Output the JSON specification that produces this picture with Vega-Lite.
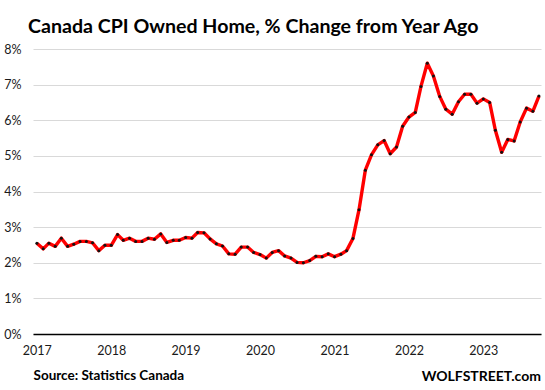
{
  "$schema": "https://vega.github.io/schema/vega-lite/v6.json",
  "autosize": "none",
  "width": 508,
  "height": 285,
  "padding": {"left": 33, "top": 49, "right": 4, "bottom": 56},
  "background": "white",
  "title": {
    "text": "Canada CPI Owned Home, % Change from Year Ago",
    "anchor": "start",
    "frame": "group",
    "font": "Lato",
    "fontSize": 19.6,
    "fontWeight": "bold",
    "color": "#000000",
    "baseline": "alphabetic",
    "offset": 18,
    "dx": -5,
    "dy": 28
  },
  "config": {
    "view": {"stroke": null},
    "font": "Lato"
  },
  "datasets": {
    "cpi": [
      {"date": "2017-01-01", "pct": 2.55},
      {"date": "2017-02-01", "pct": 2.39},
      {"date": "2017-03-01", "pct": 2.55},
      {"date": "2017-04-01", "pct": 2.46},
      {"date": "2017-05-01", "pct": 2.69},
      {"date": "2017-06-01", "pct": 2.46},
      {"date": "2017-07-01", "pct": 2.52},
      {"date": "2017-08-01", "pct": 2.60},
      {"date": "2017-09-01", "pct": 2.60},
      {"date": "2017-10-01", "pct": 2.56},
      {"date": "2017-11-01", "pct": 2.34},
      {"date": "2017-12-01", "pct": 2.49},
      {"date": "2018-01-01", "pct": 2.49},
      {"date": "2018-02-01", "pct": 2.79},
      {"date": "2018-03-01", "pct": 2.63},
      {"date": "2018-04-01", "pct": 2.69},
      {"date": "2018-05-01", "pct": 2.60},
      {"date": "2018-06-01", "pct": 2.60},
      {"date": "2018-07-01", "pct": 2.69},
      {"date": "2018-08-01", "pct": 2.66},
      {"date": "2018-09-01", "pct": 2.81},
      {"date": "2018-10-01", "pct": 2.57},
      {"date": "2018-11-01", "pct": 2.63},
      {"date": "2018-12-01", "pct": 2.63},
      {"date": "2019-01-01", "pct": 2.71},
      {"date": "2019-02-01", "pct": 2.69},
      {"date": "2019-03-01", "pct": 2.85},
      {"date": "2019-04-01", "pct": 2.84},
      {"date": "2019-05-01", "pct": 2.67},
      {"date": "2019-06-01", "pct": 2.53},
      {"date": "2019-07-01", "pct": 2.47},
      {"date": "2019-08-01", "pct": 2.25},
      {"date": "2019-09-01", "pct": 2.24},
      {"date": "2019-10-01", "pct": 2.44},
      {"date": "2019-11-01", "pct": 2.44},
      {"date": "2019-12-01", "pct": 2.29},
      {"date": "2020-01-01", "pct": 2.23},
      {"date": "2020-02-01", "pct": 2.13},
      {"date": "2020-03-01", "pct": 2.29},
      {"date": "2020-04-01", "pct": 2.34},
      {"date": "2020-05-01", "pct": 2.19},
      {"date": "2020-06-01", "pct": 2.13},
      {"date": "2020-07-01", "pct": 2.01},
      {"date": "2020-08-01", "pct": 2.00},
      {"date": "2020-09-01", "pct": 2.06},
      {"date": "2020-10-01", "pct": 2.18},
      {"date": "2020-11-01", "pct": 2.17},
      {"date": "2020-12-01", "pct": 2.25},
      {"date": "2021-01-01", "pct": 2.17},
      {"date": "2021-02-01", "pct": 2.24},
      {"date": "2021-03-01", "pct": 2.34},
      {"date": "2021-04-01", "pct": 2.68},
      {"date": "2021-05-01", "pct": 3.49},
      {"date": "2021-06-01", "pct": 4.60},
      {"date": "2021-07-01", "pct": 5.03},
      {"date": "2021-08-01", "pct": 5.31},
      {"date": "2021-09-01", "pct": 5.43},
      {"date": "2021-10-01", "pct": 5.06},
      {"date": "2021-11-01", "pct": 5.25},
      {"date": "2021-12-01", "pct": 5.83},
      {"date": "2022-01-01", "pct": 6.09},
      {"date": "2022-02-01", "pct": 6.22},
      {"date": "2022-03-01", "pct": 6.95},
      {"date": "2022-04-01", "pct": 7.60},
      {"date": "2022-05-01", "pct": 7.24},
      {"date": "2022-06-01", "pct": 6.67},
      {"date": "2022-07-01", "pct": 6.31},
      {"date": "2022-08-01", "pct": 6.17},
      {"date": "2022-09-01", "pct": 6.52},
      {"date": "2022-10-01", "pct": 6.73},
      {"date": "2022-11-01", "pct": 6.73},
      {"date": "2022-12-01", "pct": 6.48},
      {"date": "2023-01-01", "pct": 6.60},
      {"date": "2023-02-01", "pct": 6.50},
      {"date": "2023-03-01", "pct": 5.72},
      {"date": "2023-04-01", "pct": 5.10},
      {"date": "2023-05-01", "pct": 5.46},
      {"date": "2023-06-01", "pct": 5.42},
      {"date": "2023-07-01", "pct": 5.95},
      {"date": "2023-08-01", "pct": 6.34},
      {"date": "2023-09-01", "pct": 6.25},
      {"date": "2023-10-01", "pct": 6.68}
    ],
    "credit": [
      {"date": "2023-10-11", "pct": 0, "label": "WOLFSTREET.com"}
    ]
  },
  "encoding": {
    "x": {
      "field": "date",
      "type": "temporal",
      "scale": {
        "type": "utc",
        "domain": [
          {"year": 2016, "month": 12, "date": 13, "utc": true},
          {"year": 2023, "month": 10, "date": 11, "utc": true}
        ]
      },
      "axis": {
        "title": "Source: Statistics Canada",
        "titleAnchor": "start",
        "titleAlign": "left",
        "titleFont": "Lato",
        "titleFontSize": 13.5,
        "titleFontWeight": "bold",
        "titleColor": "#000000",
        "titlePadding": 12,
        "values": [
          {"year": 2017, "utc": true},
          {"year": 2018, "utc": true},
          {"year": 2019, "utc": true},
          {"year": 2020, "utc": true},
          {"year": 2021, "utc": true},
          {"year": 2022, "utc": true},
          {"year": 2023, "utc": true}
        ],
        "format": "%Y",
        "formatType": "utc",
        "labelFont": "Lato",
        "labelFontSize": 12.5,
        "labelColor": "#1a1a1a",
        "labelPadding": 10,
        "labelFlush": false,
        "ticks": false,
        "grid": false,
        "domainColor": "#000000",
        "domainWidth": 1.3
      }
    },
    "y": {
      "field": "pct",
      "type": "quantitative",
      "scale": {"domain": [0, 8], "nice": false, "zero": true},
      "axis": {
        "title": null,
        "values": [0, 1, 2, 3, 4, 5, 6, 7, 8],
        "labelExpr": "datum.value + '%'",
        "labelFont": "Lato",
        "labelFontSize": 12.5,
        "labelColor": "#1a1a1a",
        "labelPadding": 12,
        "ticks": false,
        "domain": false,
        "grid": true,
        "gridColor": "#d9d9d9",
        "gridWidth": 1
      }
    }
  },
  "layer": [
    {
      "data": {"name": "cpi"},
      "mark": {"type": "line", "color": "#ff0000", "strokeWidth": 3.4, "strokeJoin": "round"}
    },
    {
      "data": {"name": "cpi"},
      "mark": {"type": "point", "filled": true, "color": "#111111", "size": 9, "opacity": 1}
    },
    {
      "data": {"name": "credit"},
      "mark": {
        "type": "text",
        "align": "right",
        "baseline": "alphabetic",
        "font": "Lato",
        "fontSize": 14,
        "fontWeight": "bold",
        "color": "#000000",
        "dy": 47
      },
      "encoding": {
        "text": {"field": "label"}
      }
    }
  ]
}
